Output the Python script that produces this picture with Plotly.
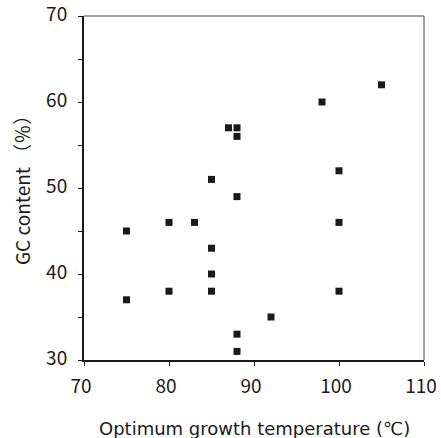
import plotly.graph_objects as go

temperature = [75, 75, 80, 80, 83, 85, 85, 85, 85, 87, 88, 88, 88, 88, 88, 92, 98, 100, 100, 100, 105]
gc_content = [45, 37, 46, 38, 46, 51, 43, 40, 38, 57, 57, 56, 49, 33, 31, 35, 60, 52, 46, 38, 62]

x_ticks = [70, 80, 90, 100, 110]
y_ticks = [30, 40, 50, 60, 70]

FONT = "Noto Sans CJK JP"
INK = "#1a1a1a"

fig = go.Figure()
fig.add_trace(go.Scatter(
    x=temperature, y=gc_content, mode="markers",
    marker=dict(symbol="square", size=7, color=INK),
    showlegend=False, hoverinfo="x+y",
))

fig.update_layout(
    width=441, height=438,
    margin=dict(l=84, r=17, t=16, b=78),
    paper_bgcolor="white", plot_bgcolor="white",
    font=dict(family=FONT, color=INK),
    xaxis=dict(
        range=[70, 110], tickvals=x_ticks, ticktext=[str(v) for v in x_ticks],
        showgrid=False, zeroline=False, showline=True, linecolor=INK, linewidth=2,
        ticks="outside", ticklen=4, tickwidth=1, tickcolor=INK, automargin=False,
        tickfont=dict(size=19, family=FONT, color=INK), ticklabelstandoff=4,
        ticklabelshift=-3, ticklabeloverflow="allow",
    ),
    yaxis=dict(
        range=[30, 70], tickvals=y_ticks, ticktext=[str(v) for v in y_ticks],
        showgrid=False, zeroline=False, showline=True, linecolor=INK, linewidth=2,
        ticks="outside", ticklen=4, tickwidth=1, tickcolor=INK, automargin=False,
        minor=dict(dtick=5, tick0=30, ticks="outside", ticklen=4, tickwidth=1,
                   tickcolor=INK, showgrid=False),
        tickfont=dict(size=19, family=FONT, color=INK), ticklabelstandoff=7,
        ticklabelshift=-2, ticklabeloverflow="allow",
    ),
    shapes=[
        dict(type="line", xref="paper", yref="paper", x0=0, x1=1, y0=1, y1=1,
             line=dict(color="#444", width=1)),
        dict(type="line", xref="paper", yref="paper", x0=1, x1=1, y0=0, y1=1,
             line=dict(color="#444", width=1)),
    ],
    annotations=[
        dict(text="Optimum growth temperature (℃)", xref="paper", yref="paper",
             x=0.5, y=0, yshift=-68, xanchor="center", yanchor="middle",
             showarrow=False, font=dict(size=18, family="DejaVu Sans", color=INK)),
        dict(text="GC content （％）", xref="paper", yref="paper",
             x=0, y=0.5, xshift=-63, yshift=2, textangle=-90, xanchor="center", yanchor="middle",
             showarrow=False, font=dict(size=19, family=FONT, color=INK)),
    ],
)

# remove the default 8px page margin so the 441x438 figure fills the window exactly
fig.write_html("out.html", config={"displayModeBar": False},
               post_script="document.body.style.margin='0';")
